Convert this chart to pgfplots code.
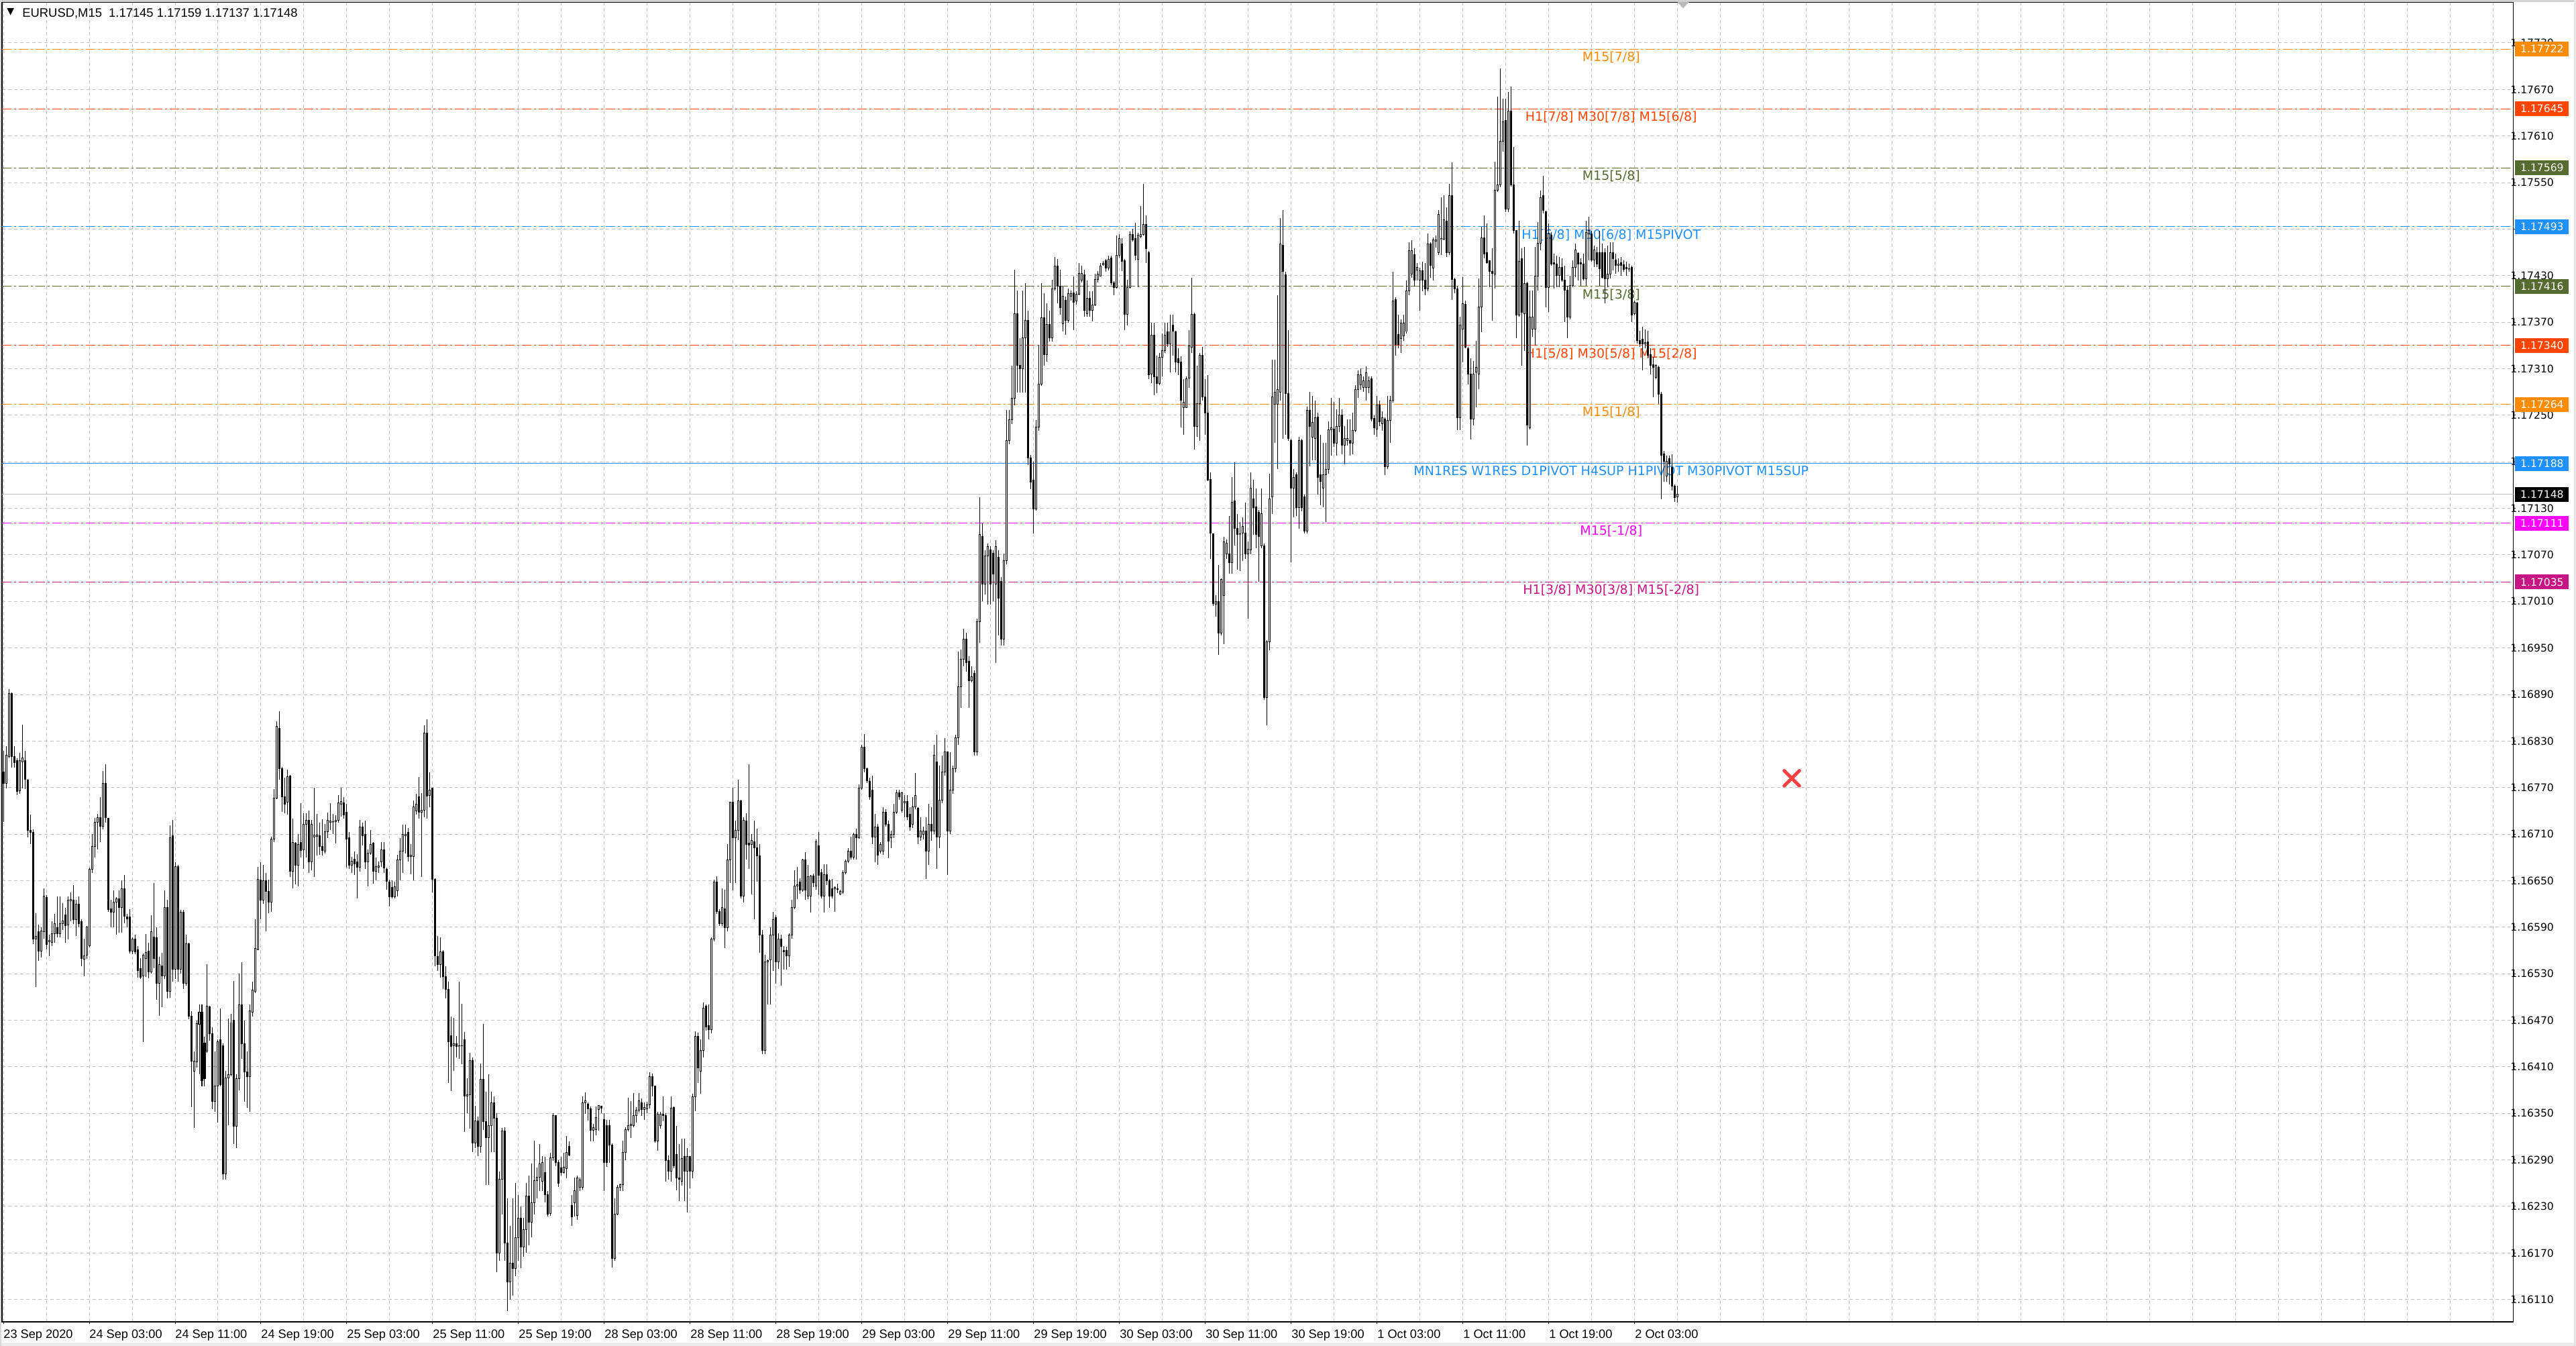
\documentclass[border=0pt]{standalone}
\usepackage{fontspec}
\setmainfont{Liberation Sans}
\newfontfamily\djv{DejaVu Sans}
\usepackage{pgfplots}
\usepackage{pgfplotstable}
\pgfplotsset{compat=1.18}

\definecolor{lvOrange}{RGB}{255,140,0}
\definecolor{lvRed}{RGB}{255,69,0}
\definecolor{lvOlive}{RGB}{85,107,47}
\definecolor{lvBlue}{RGB}{30,144,255}
\definecolor{lvMagenta}{RGB}{255,0,255}
\definecolor{lvViolet}{RGB}{199,21,133}
\definecolor{gridgray}{RGB}{192,192,192}
\definecolor{crossred}{RGB}{250,64,64}

% EURUSD M15 candles: bar index, open high low close
% prices in points above 1.16000 (1 point = 0.00001)
\pgfplotstableread{
i o h l c
-32 790 817 726 775
-31 775 823 769 812
-30 810 897 808 891
-29 891 893 796 810
-28 810 823 796 802
-27 805 808 760 765
-26 766 815 762 805
-25 803 851 769 808
-24 805 817 768 781
-23 780 781 706 715
-22 715 735 697 712
-21 712 716 568 575
-20 575 608 513 578
-19 584 593 547 559
-18 559 590 551 585
-17 584 640 575 630
-16 628 631 561 568
-15 571 580 553 573
-14 570 598 566 582
-13 582 607 570 595
-12 589 630 577 582
-11 582 630 577 595
-10 595 621 586 598
-9 606 615 570 592
-8 593 630 574 625
-7 624 635 598 626
-6 625 644 594 600
-5 600 625 579 620
-4 620 630 590 595
-3 597 600 540 550
-2 549 575 527 553
-1 554 592 549 590
0 566 667 564 665
1 665 710 660 694
2 694 731 680 725
3 725 736 690 731
4 731 758 700 720
5 720 791 716 775
6 775 800 725 731
7 730 731 610 613
8 614 625 590 609
9 609 637 590 622
10 622 629 580 627
11 627 637 583 615
12 615 650 583 640
13 640 657 595 604
14 603 607 590 601
15 603 613 556 559
16 559 577 555 575
17 575 580 555 558
18 561 566 525 534
19 537 550 523 525
20 527 556 442 554
21 550 581 526 557
22 559 570 524 532
23 532 605 530 584
24 577 647 537 550
25 576 590 496 518
26 518 552 476 542
27 540 557 487 527
28 527 637 523 615
29 615 625 498 507
30 507 721 499 705
31 708 728 520 536
32 536 674 523 668
33 668 670 520 536
34 536 612 530 609
35 609 612 510 518
36 518 580 515 569
37 569 570 471 475
38 475 482 358 417
39 404 430 331 417
40 416 470 409 466
41 465 490 400 480
42 480 490 385 392
43 441 449 385 395
44 430 542 428 488
45 487 489 444 453
46 453 461 355 365
47 365 430 352 385
48 385 445 338 442
49 445 485 385 387
50 437 440 265 272
51 272 405 265 396
52 396 472 335 400
53 400 478 398 467
54 470 521 310 333
55 333 400 305 395
56 395 530 380 490
57 490 545 420 440
58 440 470 365 403
59 403 430 357 397
60 397 490 352 482
61 480 520 475 509
62 507 600 505 563
63 561 668 560 652
64 651 674 600 625
65 625 670 620 650
66 650 660 585 636
67 636 651 608 622
68 622 707 610 704
69 704 768 700 756
70 756 855 755 849
71 846 868 780 794
72 794 797 739 758
73 758 783 737 749
74 751 793 735 784
75 785 786 655 662
76 662 730 640 699
77 698 700 645 670
78 670 710 643 697
79 699 750 680 689
80 690 737 665 723
81 723 737 680 728
82 728 740 660 674
83 674 728 663 723
84 706 770 655 709
85 707 736 682 709
86 708 725 683 694
87 694 729 682 689
88 688 723 685 713
89 713 738 705 728
90 725 750 715 727
91 725 736 710 726
92 726 734 698 728
93 728 760 725 750
94 749 770 733 752
95 750 758 730 735
96 738 749 667 704
97 705 713 665 670
98 670 681 660 675
99 678 688 657 672
100 674 684 627 667
101 667 728 662 719
102 719 725 695 708
103 710 727 665 674
104 674 690 643 685
105 685 715 683 697
106 698 700 646 662
107 662 680 650 668
108 667 675 660 669
109 674 700 668 690
110 690 700 660 666
111 665 667 638 649
112 648 651 617 629
113 641 650 627 629
114 629 649 627 642
115 637 683 630 677
116 677 705 650 688
117 688 722 660 710
118 708 722 685 710
119 712 718 675 681
120 681 697 658 683
121 681 753 650 745
122 740 762 735 749
123 758 784 730 738
124 738 763 655 741
125 741 850 732 840
126 840 858 730 759
127 760 790 745 767
128 769 770 635 652
129 652 653 540 553
130 552 579 534 542
131 542 577 525 558
132 558 560 510 526
133 526 540 498 510
134 510 520 389 442
135 450 475 379 436
136 437 473 405 440
137 440 450 422 436
138 436 520 420 437
139 437 491 413 437
140 445 455 326 372
141 372 395 350 374
142 374 428 330 418
143 418 422 300 312
144 312 360 305 340
145 340 346 295 307
146 307 414 299 394
147 394 465 329 339
148 339 378 258 319
149 319 400 258 334
150 334 378 300 364
151 364 372 300 344
152 344 350 145 170
153 170 275 160 265
154 265 331 220 327
155 327 332 160 183
156 183 240 95 133
157 133 205 110 157
158 157 240 115 150
159 150 260 140 190
160 190 245 160 215
161 215 230 150 178
162 178 215 165 200
163 200 260 170 243
164 243 270 180 210
165 210 285 190 235
166 235 315 220 263
167 263 280 240 268
168 268 310 250 285
169 262 295 250 287
170 274 294 235 245
171 245 250 217 220
172 221 299 218 293
173 293 350 289 347
174 347 347 282 287
175 287 290 255 260
176 280 294 270 274
177 274 299 272 281
178 279 321 266 300
179 307 314 295 296
180 231 245 205 217
181 235 267 217 250
182 218 270 213 267
183 255 267 250 264
184 255 372 252 364
185 364 377 349 366
186 362 364 341 356
187 356 359 314 328
188 328 336 314 332
189 329 359 322 345
190 355 361 328 360
191 359 360 350 357
192 342 350 250 287
193 334 342 281 287
194 334 342 286 309
195 309 311 151 163
196 163 240 160 220
197 220 258 219 255
198 255 259 250 258
199 258 315 250 300
200 300 332 290 329
201 329 370 327 334
202 334 366 318 336
203 334 376 332 347
204 347 358 338 354
205 354 376 351 366
206 364 369 347 355
207 355 364 342 358
208 356 365 350 361
209 361 403 356 397
210 397 401 372 385
211 385 386 312 314
212 314 352 302 349
213 334 352 330 349
214 349 372 340 347
215 347 350 262 289
216 289 296 265 275
217 275 372 262 357
218 358 359 279 282
219 297 334 251 267
220 267 310 237 265
221 262 317 257 292
222 294 317 237 275
223 275 305 222 294
224 294 294 253 275
225 275 375 266 371
226 371 456 353 449
227 449 454 389 409
228 404 445 375 431
229 431 493 422 486
230 488 490 457 461
231 463 490 445 458
232 458 577 453 575
233 575 651 572 648
234 648 656 607 610
235 610 613 592 595
236 595 640 592 615
237 614 638 563 589
238 589 697 585 677
239 677 752 647 751
240 751 770 637 705
241 705 727 647 715
242 715 780 702 753
243 753 754 627 630
244 630 732 622 728
245 727 737 677 697
246 698 800 665 696
247 697 710 632 702
248 700 727 600 692
249 692 717 649 682
250 682 697 557 580
251 580 586 426 431
252 431 554 426 545
253 545 548 490 547
254 548 590 490 580
255 580 610 534 600
256 602 605 517 545
257 545 582 536 575
258 575 580 515 565
259 560 566 535 558
260 560 565 535 553
261 553 582 539 580
262 580 625 575 615
263 615 663 613 643
264 643 668 626 645
265 648 653 633 638
266 638 678 636 677
267 677 687 625 638
268 630 670 626 655
269 630 657 609 656
270 656 659 642 647
271 643 703 638 700
272 695 713 631 657
273 660 665 627 630
274 630 671 609 658
275 658 671 644 650
276 650 652 615 630
277 640 652 627 630
278 640 643 610 641
279 640 646 634 639
280 633 638 631 636
281 635 663 633 660
282 660 677 658 675
283 675 692 673 688
284 688 707 677 680
285 680 712 677 710
286 710 717 677 705
287 705 774 704 769
288 769 825 767 822
289 822 839 790 794
290 794 796 776 779
291 778 783 754 758
292 767 785 697 706
293 706 736 674 719
294 719 723 670 683
295 688 700 685 697
296 688 745 683 738
297 738 742 720 723
298 723 727 679 701
299 705 714 692 710
300 710 749 705 738
301 738 767 736 763
302 763 767 754 758
303 741 765 738 763
304 750 760 732 752
305 752 760 728 732
306 736 745 714 719
307 723 758 718 745
308 745 789 742 760
309 743 745 697 706
310 706 732 701 714
311 710 720 703 714
312 714 732 652 688
313 688 749 670 723
314 723 745 701 714
315 714 825 710 812
316 803 838 665 706
317 706 798 692 754
318 754 811 750 790
319 790 834 785 816
320 816 816 657 714
321 714 816 710 767
322 767 798 762 794
323 794 838 790 834
324 834 945 825 900
325 900 948 873 935
326 935 975 926 961
327 961 970 919 931
328 933 939 873 908
329 908 926 906 913
330 917 921 811 816
331 816 988 811 984
332 984 1144 957 1096
333 1094 1111 1010 1032
334 1032 1076 1019 1069
335 1069 1085 1006 1081
336 1076 1081 1006 1032
337 1072 1076 1010 1045
338 1032 1089 931 1081
339 1067 1076 966 1014
340 1036 1041 953 961
341 961 1072 953 1063
342 1063 1257 1058 1217
343 1217 1257 1213 1244
344 1244 1314 1239 1272
345 1272 1438 1263 1381
346 1381 1411 1279 1314
347 1314 1349 1279 1310
348 1310 1411 1279 1350
349 1350 1420 1279 1372
350 1372 1385 1186 1195
351 1195 1199 1155 1164
352 1166 1190 1098 1129
353 1129 1244 1127 1235
354 1235 1341 1230 1290
355 1290 1420 1288 1376
356 1376 1407 1314 1328
357 1328 1394 1319 1367
358 1367 1385 1345 1350
359 1350 1425 1345 1413
360 1413 1454 1411 1442
361 1442 1451 1394 1416
362 1416 1438 1380 1389
363 1368 1416 1358 1403
364 1398 1403 1354 1372
365 1372 1413 1369 1407
366 1403 1411 1398 1407
367 1408 1429 1360 1396
368 1397 1410 1393 1406
369 1406 1446 1405 1433
370 1424 1443 1421 1433
371 1431 1438 1377 1385
372 1381 1424 1377 1401
373 1401 1410 1377 1385
374 1385 1410 1371 1392
375 1392 1432 1391 1425
376 1425 1436 1421 1432
377 1429 1446 1429 1442
378 1444 1449 1443 1446
379 1449 1451 1435 1440
380 1440 1456 1437 1451
381 1453 1456 1418 1421
382 1421 1423 1405 1415
383 1415 1482 1413 1456
384 1456 1483 1453 1478
385 1471 1478 1436 1448
386 1449 1451 1360 1380
387 1380 1425 1366 1415
388 1415 1487 1413 1483
389 1483 1490 1474 1476
390 1478 1498 1450 1456
391 1451 1485 1415 1482
392 1480 1520 1478 1483
393 1483 1548 1482 1496
394 1496 1508 1446 1465
395 1460 1462 1297 1302
396 1303 1369 1291 1353
397 1353 1369 1276 1300
398 1300 1327 1278 1291
399 1291 1330 1289 1325
400 1325 1355 1300 1333
401 1333 1369 1330 1353
402 1358 1369 1338 1342
403 1342 1380 1305 1358
404 1366 1380 1327 1358
405 1358 1359 1305 1319
406 1323 1336 1302 1318
407 1319 1326 1234 1269
408 1260 1297 1225 1267
409 1260 1300 1259 1297
410 1298 1360 1285 1339
411 1338 1427 1330 1380
412 1380 1382 1206 1236
413 1236 1314 1222 1265
414 1265 1330 1217 1327
415 1327 1338 1269 1274
416 1274 1297 1225 1253
417 1253 1302 1165 1166
418 1167 1176 1065 1098
419 1097 1098 1004 1007
420 1006 1018 990 1010
421 1010 1057 941 969
422 969 1040 966 1038
423 1018 1093 955 1087
424 1071 1090 1065 1085
425 1071 1120 1046 1060
426 1060 1170 1046 1138
427 1140 1189 1082 1104
428 1104 1123 1051 1096
429 1096 1112 1049 1097
430 1098 1118 1062 1107
431 1098 1137 1065 1071
432 1071 1087 988 1077
433 1076 1176 1071 1156
434 1142 1167 1096 1131
435 1132 1156 1079 1096
436 1125 1128 1035 1094
437 1082 1156 1079 1123
438 1082 1085 883 886
439 886 960 850 958
440 958 1175 947 1142
441 1145 1322 1123 1274
442 1264 1322 1214 1280
443 1264 1405 1181 1283
444 1280 1504 1269 1471
445 1469 1515 1220 1435
446 1431 1435 1225 1278
447 1278 1360 1217 1220
448 1217 1220 1060 1156
449 1156 1181 1118 1170
450 1173 1176 1120 1131
451 1131 1222 1104 1217
452 1217 1220 1126 1131
453 1145 1148 1098 1101
454 1101 1261 1098 1256
455 1256 1280 1184 1236
456 1222 1275 1192 1241
457 1220 1269 1192 1247
458 1248 1253 1148 1170
459 1173 1225 1134 1165
460 1156 1214 1131 1173
461 1173 1214 1112 1180
462 1180 1242 1175 1231
463 1231 1272 1198 1234
464 1232 1267 1209 1214
465 1214 1258 1198 1236
466 1236 1272 1228 1250
467 1250 1258 1200 1211
468 1211 1236 1187 1220
469 1217 1245 1211 1220
470 1217 1245 1198 1214
471 1214 1253 1200 1230
472 1230 1289 1228 1283
473 1283 1308 1272 1302
474 1289 1310 1283 1302
475 1286 1300 1280 1294
476 1286 1313 1269 1305
477 1286 1300 1278 1294
478 1297 1300 1242 1245
479 1246 1250 1225 1234
480 1232 1275 1222 1263
481 1263 1269 1236 1242
482 1239 1255 1230 1247
483 1245 1247 1173 1184
484 1184 1275 1181 1243
485 1243 1275 1214 1269
486 1269 1435 1266 1397
487 1399 1402 1327 1341
488 1354 1380 1336 1341
489 1349 1374 1330 1369
490 1352 1380 1346 1369
491 1358 1424 1355 1410
492 1410 1473 1405 1462
493 1432 1476 1427 1462
494 1457 1465 1416 1424
495 1437 1446 1424 1441
496 1424 1440 1385 1436
497 1436 1448 1410 1424
498 1424 1446 1405 1413
499 1413 1484 1410 1471
500 1471 1473 1427 1443
501 1440 1479 1424 1476
502 1474 1482 1466 1476
503 1460 1515 1457 1509
504 1477 1531 1457 1478
505 1477 1534 1476 1502
506 1500 1518 1454 1460
507 1460 1548 1457 1533
508 1533 1576 1399 1425
509 1425 1427 1407 1413
510 1413 1416 1231 1247
511 1247 1377 1231 1366
512 1361 1428 1318 1394
513 1393 1398 1336 1338
514 1336 1338 1290 1303
515 1303 1323 1219 1245
516 1245 1320 1237 1303
517 1306 1346 1260 1312
518 1303 1426 1284 1390
519 1390 1493 1357 1479
520 1479 1508 1452 1458
521 1460 1497 1445 1447
522 1449 1450 1415 1435
523 1435 1465 1372 1433
524 1432 1577 1413 1540
525 1540 1661 1538 1547
526 1547 1697 1544 1603
527 1603 1658 1590 1628
528 1630 1658 1512 1516
529 1516 1667 1512 1642
530 1642 1674 1545 1547
531 1547 1596 1484 1488
532 1488 1488 1349 1379
533 1379 1501 1377 1448
534 1452 1465 1314 1383
535 1381 1467 1333 1420
536 1420 1422 1211 1237
537 1234 1411 1232 1377
538 1361 1411 1351 1377
539 1361 1467 1340 1429
540 1429 1499 1411 1472
541 1472 1540 1463 1531
542 1533 1559 1510 1514
543 1512 1514 1389 1415
544 1415 1497 1383 1484
545 1482 1486 1443 1445
546 1447 1458 1413 1445
547 1445 1456 1415 1430
548 1430 1454 1415 1441
549 1441 1452 1422 1424
550 1424 1443 1370 1411
551 1411 1417 1349 1377
552 1377 1430 1374 1417
553 1417 1450 1415 1441
554 1441 1471 1428 1463
555 1459 1460 1424 1445
556 1447 1452 1417 1445
557 1445 1458 1424 1426
558 1426 1501 1417 1486
559 1484 1506 1450 1488
560 1484 1488 1448 1450
561 1450 1469 1441 1463
562 1460 1467 1441 1445
563 1460 1488 1417 1439
564 1460 1471 1426 1428
565 1460 1465 1394 1426
566 1426 1469 1415 1432
567 1432 1473 1426 1460
568 1460 1473 1437 1452
569 1450 1458 1432 1443
570 1443 1452 1435 1445
571 1447 1454 1430 1443
572 1444 1450 1435 1438
573 1441 1448 1430 1439
574 1438 1445 1435 1439
575 1441 1443 1370 1379
576 1381 1398 1379 1396
577 1395 1396 1342 1346
578 1346 1359 1338 1342
579 1348 1364 1308 1342
580 1342 1361 1336 1344
581 1345 1359 1323 1327
582 1328 1336 1303 1314
583 1315 1325 1273 1312
584 1299 1316 1297 1314
585 1312 1314 1265 1277
586 1277 1280 1142 1198
587 1200 1204 1164 1191
588 1172 1198 1164 1191
589 1194 1198 1161 1187
590 1183 1200 1153 1159
591 1159 1161 1138 1144
592 1145 1159 1137 1148
}\candles

\newcommand{\lvfont}{\djv\fontsize{9.5}{10}\selectfont}
\newcommand{\pxfont}{\djv\fontsize{7.8}{9}\selectfont}

\begin{document}
\begin{tikzpicture}
\useasboundingbox (0pt,0pt) rectangle (1920pt,1003pt);
\fill[white] (0pt,0pt) rectangle (1920pt,1003pt);
\fill[gray!35] (0pt,1001.5pt) rectangle (1920pt,1003pt);
\fill[gray!15] (0pt,0pt) rectangle (1920pt,2.5pt);
\fill[gray!20] (1918.5pt,0pt) rectangle (1920pt,1003pt);
\fill[gray!30] (0pt,0pt) rectangle (1.2pt,1003pt);

\begin{axis}[
    at={(1.5pt,18pt)}, anchor=south west,
    scale only axis, width=1871.8pt, height=983.35pt,
    xmin=-32.5, xmax=903.4, ymin=81.2, ymax=1782.5,
    clip mode=individual,
    axis line style={black, line width=0.6pt},
    tick align=outside, major tick length=1.5pt, minor tick length=0pt,
    tick style={black, line width=0.5pt},
    xtick pos=left, ytick pos=right, yticklabel pos=right,
    xtick={-32,0,...,576},
    xticklabels={23 Sep 2020, 24 Sep 03:00, 24 Sep 11:00, 24 Sep 19:00, 25 Sep 03:00,
        25 Sep 11:00, 25 Sep 19:00, 28 Sep 03:00, 28 Sep 11:00, 28 Sep 19:00,
        29 Sep 03:00, 29 Sep 11:00, 29 Sep 19:00, 30 Sep 03:00, 30 Sep 11:00,
        30 Sep 19:00, 1 Oct 03:00, 1 Oct 11:00, 1 Oct 19:00, 2 Oct 03:00},
    minor xtick={-32,-16,...,896},
    xminorgrids=true, xmajorgrids=false,
    ytick={110,170,...,1730},
    yticklabels={1.16110, 1.16170, 1.16230, 1.16290, 1.16350, 1.16410, 1.16470,
        1.16530, 1.16590, 1.16650, 1.16710, 1.16770, 1.16830, 1.16890, 1.16950,
        1.17010, 1.17070, 1.17130, 1.17190, 1.17250, 1.17310, 1.17370, 1.17430,
        {}, 1.17550, 1.17610, 1.17670, 1.17730},
    ymajorgrids=true,
    grid style={gridgray, line width=0.5pt, dash pattern=on 2.5pt off 2pt},
    minor grid style={gridgray, line width=0.5pt, dash pattern=on 2.5pt off 2pt},
    xticklabel style={font=\fontsize{9.1}{10}\selectfont, anchor=north west, inner sep=0pt, yshift=-4pt},
    yticklabel style={font=\pxfont, anchor=west, inner sep=0pt, xshift=-3.8pt},
]

% level lines
\addplot[lvOrange, line width=0.5pt, dash pattern=on 7pt off 2pt on 1.5pt off 2pt] coordinates {(-32.5,1722) (903.4,1722)};
\addplot[lvRed, line width=0.5pt, dash pattern=on 7pt off 2pt on 1.5pt off 2pt] coordinates {(-32.5,1645) (903.4,1645)};
\addplot[lvOlive, line width=0.5pt, dash pattern=on 7pt off 2pt on 1.5pt off 2pt] coordinates {(-32.5,1569) (903.4,1569)};
\addplot[lvBlue, line width=0.5pt, dash pattern=on 7pt off 2pt on 1.5pt off 2pt] coordinates {(-32.5,1493) (903.4,1493)};
\addplot[lvOlive, line width=0.5pt, dash pattern=on 7pt off 2pt on 1.5pt off 2pt] coordinates {(-32.5,1416) (903.4,1416)};
\addplot[lvRed, line width=0.5pt, dash pattern=on 7pt off 2pt on 1.5pt off 2pt] coordinates {(-32.5,1340) (903.4,1340)};
\addplot[lvOrange, line width=0.5pt, dash pattern=on 7pt off 2pt on 1.5pt off 2pt] coordinates {(-32.5,1264) (903.4,1264)};
\addplot[lvBlue, line width=0.9pt] coordinates {(-32.5,1188) (903.4,1188)};
\addplot[gridgray, line width=0.5pt] coordinates {(-32.5,1148) (903.4,1148)};
\addplot[lvMagenta, line width=0.5pt, dash pattern=on 7pt off 2pt on 1.5pt off 2pt] coordinates {(-32.5,1111) (903.4,1111)};
\addplot[lvViolet, line width=0.5pt, dash pattern=on 7pt off 2pt on 1.5pt off 2pt] coordinates {(-32.5,1035) (903.4,1035)};

% level labels
\node[lvOrange, font=\lvfont, anchor=north, inner sep=0pt, yshift=-1.7pt] at (axis cs:567.2,1722) {M15[7/8]};
\node[lvRed, font=\lvfont, anchor=north, inner sep=0pt, yshift=-1.7pt] at (axis cs:567.2,1645) {H1[7/8] M30[7/8] M15[6/8]};
\node[lvOlive, font=\lvfont, anchor=north, inner sep=0pt, yshift=-1.7pt] at (axis cs:567.2,1569) {M15[5/8]};
\node[lvBlue, font=\lvfont, anchor=north, inner sep=0pt, yshift=-1.7pt] at (axis cs:567.2,1493) {H1[6/8] M30[6/8] M15PIVOT};
\node[lvOlive, font=\lvfont, anchor=north, inner sep=0pt, yshift=-1.7pt] at (axis cs:567.2,1416) {M15[3/8]};
\node[lvRed, font=\lvfont, anchor=north, inner sep=0pt, yshift=-1.7pt] at (axis cs:567.2,1340) {H1[5/8] M30[5/8] M15[2/8]};
\node[lvOrange, font=\lvfont, anchor=north, inner sep=0pt, yshift=-1.7pt] at (axis cs:567.2,1264) {M15[1/8]};
\node[lvBlue, font=\lvfont, anchor=north, inner sep=0pt, yshift=-1.7pt] at (axis cs:567.2,1188) {MN1RES W1RES D1PIVOT H4SUP H1PIVOT M30PIVOT M15SUP};
\node[lvMagenta, font=\lvfont, anchor=north, inner sep=0pt, yshift=-1.7pt] at (axis cs:567.2,1111) {M15[-1/8]};
\node[lvViolet, font=\lvfont, anchor=north, inner sep=0pt, yshift=-1.7pt] at (axis cs:567.2,1035) {H1[3/8] M30[3/8] M15[-2/8]};

% candles: wicks, bodies, white inside of rising bodies (vertical quiver segments)
\addplot[black, line width=0.5pt, line cap=butt, mark=none,
    quiver={u=0, v={\thisrow{h}-\thisrow{l}}}]
    table[x=i, y=l] {\candles};
\addplot[black, line width=1.5pt, line cap=butt, mark=none,
    quiver={u=0, v={abs(\thisrow{c}-\thisrow{o})+0.86}}]
    table[x=i, y expr={min(\thisrow{o},\thisrow{c})-0.43}] {\candles};
\addplot[white, line width=0.5pt, line cap=butt, mark=none,
    quiver={u=0, v={max(\thisrow{c}-\thisrow{o}-0.86,0)}}]
    table[x=i, y expr={\thisrow{o}+0.43}] {\candles};

% red cross object
\addplot[only marks, mark=x, mark size=8pt, mark options={draw=crossred, line width=2.5pt, line cap=round}] coordinates {(634.5,782)};

% price boxes on the scale
\node[fill=lvOrange, text=white, font=\pxfont, minimum width=40pt, minimum height=11pt, inner sep=0pt, anchor=west, xshift=1.2pt] at (axis cs:903.4,1722) {1.17722};
\node[fill=lvRed, text=white, font=\pxfont, minimum width=40pt, minimum height=11pt, inner sep=0pt, anchor=west, xshift=1.2pt] at (axis cs:903.4,1645) {1.17645};
\node[fill=lvOlive, text=white, font=\pxfont, minimum width=40pt, minimum height=11pt, inner sep=0pt, anchor=west, xshift=1.2pt] at (axis cs:903.4,1569) {1.17569};
\node[fill=lvBlue, text=white, font=\pxfont, minimum width=40pt, minimum height=11pt, inner sep=0pt, anchor=west, xshift=1.2pt] at (axis cs:903.4,1493) {1.17493};
\node[fill=lvOlive, text=white, font=\pxfont, minimum width=40pt, minimum height=11pt, inner sep=0pt, anchor=west, xshift=1.2pt] at (axis cs:903.4,1416) {1.17416};
\node[fill=lvRed, text=white, font=\pxfont, minimum width=40pt, minimum height=11pt, inner sep=0pt, anchor=west, xshift=1.2pt] at (axis cs:903.4,1340) {1.17340};
\node[fill=lvOrange, text=white, font=\pxfont, minimum width=40pt, minimum height=11pt, inner sep=0pt, anchor=west, xshift=1.2pt] at (axis cs:903.4,1264) {1.17264};
\node[fill=lvBlue, text=white, font=\pxfont, minimum width=40pt, minimum height=11pt, inner sep=0pt, anchor=west, xshift=1.2pt] at (axis cs:903.4,1188) {1.17188};
\node[fill=black, text=white, font=\pxfont, minimum width=40pt, minimum height=11pt, inner sep=0pt, anchor=west, xshift=1.2pt] at (axis cs:903.4,1148) {1.17148};
\node[fill=lvMagenta, text=white, font=\pxfont, minimum width=40pt, minimum height=11pt, inner sep=0pt, anchor=west, xshift=1.2pt] at (axis cs:903.4,1111) {1.17111};
\node[fill=lvViolet, text=white, font=\pxfont, minimum width=40pt, minimum height=11pt, inner sep=0pt, anchor=west, xshift=1.2pt] at (axis cs:903.4,1035) {1.17035};
\end{axis}

% chart header and shift marker
\node[anchor=base west, inner sep=0pt, font=\djv\fontsize{7}{8}\selectfont] at (5pt,992pt) {▼};
\node[anchor=base west, inner sep=0pt, font=\fontsize{9.2}{10}\selectfont] at (16.5pt,990pt) {EURUSD,M15\ \ 1.17145 1.17159 1.17137 1.17148};
\fill[gray!55] (1250pt,1001.7pt) -- (1259pt,1001.7pt) -- (1254.5pt,996.8pt) -- cycle;
\end{tikzpicture}
\end{document}
